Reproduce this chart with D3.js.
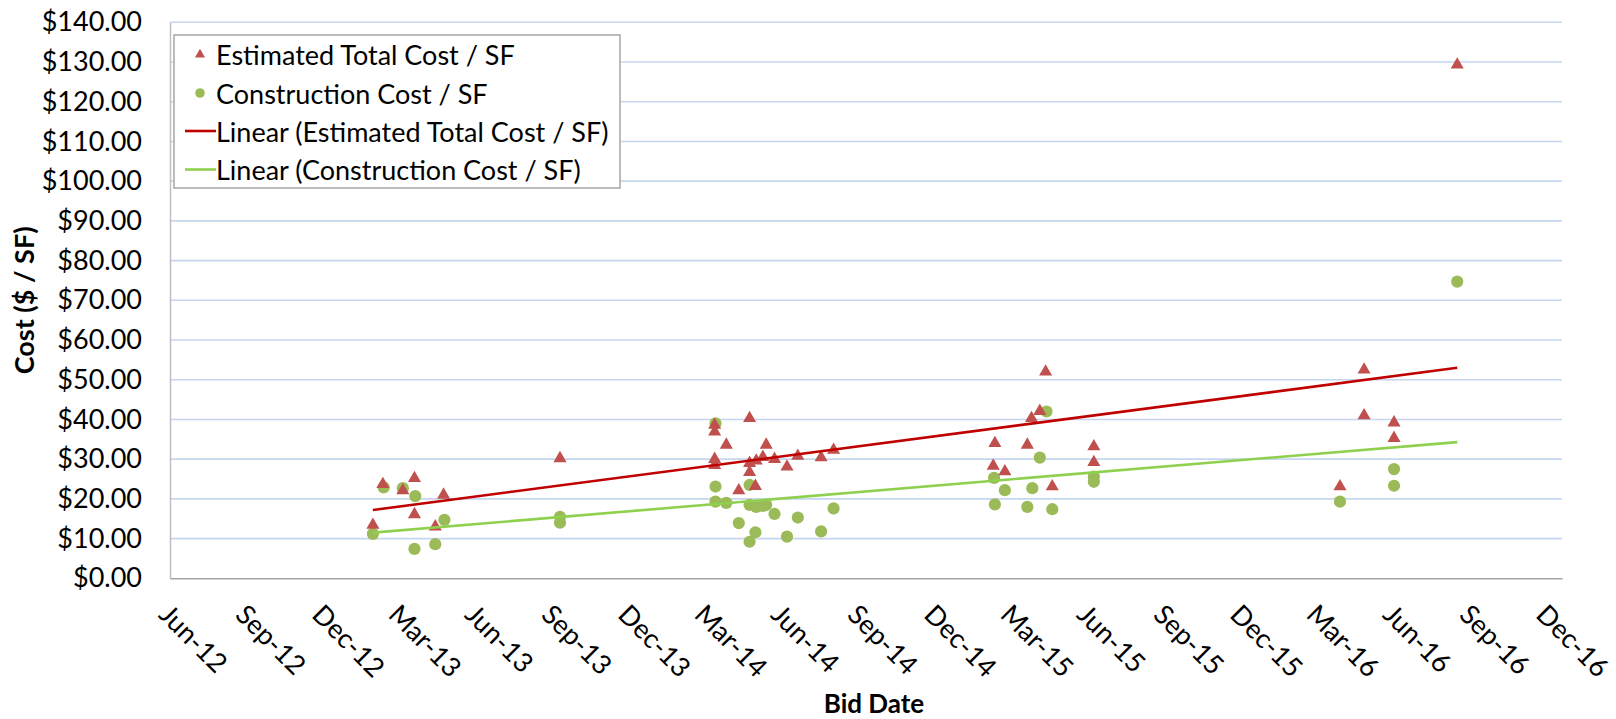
<!DOCTYPE html>
<html>
<head>
<meta charset="utf-8">
<script src="https://cdn.jsdelivr.net/npm/d3@7"></script>
<style>
  html, body { margin: 0; padding: 0; background: #fff; }
  svg { display: block; font-family: Lato, "Open Sans", sans-serif; }
</style>
</head>
<body>
<svg id="chart" width="1616" height="719"></svg>
<script>
// ---------- data ----------
const totalDates = [
  "2013-01-31","2013-02-12","2013-03-08","2013-03-22","2013-03-22","2013-04-16","2013-04-26",
  "2013-09-13",
  "2014-03-18","2014-03-18","2014-03-18","2014-03-18","2014-04-01","2014-04-16",
  "2014-04-29","2014-04-29","2014-04-29","2014-05-06","2014-05-07","2014-05-15",
  "2014-05-19","2014-05-29","2014-06-13","2014-06-26","2014-07-24","2014-08-08",
  "2015-02-16","2015-02-18","2015-03-02","2015-03-29","2015-04-03","2015-04-13",
  "2015-04-20","2015-04-28","2015-06-17","2015-06-17",
  "2016-04-08","2016-05-07","2016-05-07","2016-06-12","2016-06-12","2016-08-27"
];
const totalCost = [
  13.4, 23.7, 22.1, 25.2, 16.1, 13.0, 21.0,
  30.2,
  38.6, 36.9, 30.0, 28.5, 33.6, 22.1,
  40.3, 29.0, 26.7, 23.2, 29.6, 30.5,
  33.6, 30.0, 28.1, 30.8, 30.4, 32.3,
  28.3, 34.0, 26.9, 33.6, 40.3, 42.1,
  52.0, 23.1, 33.2, 29.2,
  23.1, 52.5, 41.0, 39.2, 35.3, 129.3
];
const constDates = [
  "2013-01-31","2013-02-13","2013-03-08","2013-03-23","2013-03-22","2013-04-16","2013-04-27",
  "2013-09-13","2013-09-13",
  "2014-03-19","2014-03-19","2014-03-19","2014-04-01","2014-04-16",
  "2014-04-29","2014-04-29","2014-04-29","2014-05-06","2014-05-07","2014-05-15",
  "2014-05-19","2014-05-29","2014-06-13","2014-06-26","2014-07-24","2014-08-08",
  "2015-02-17","2015-02-18","2015-03-02","2015-03-29","2015-04-04","2015-04-13",
  "2015-04-21","2015-04-28","2015-06-17","2015-06-17",
  "2016-04-08","2016-06-12","2016-06-12","2016-08-27"
];
const constCost = [
  11.2, 22.9, 22.7, 20.7, 7.4, 8.6, 14.7,
  15.5, 14.0,
  39.0, 23.1, 19.3, 19.0, 13.9,
  23.5, 18.5, 9.2, 11.6, 18.0, 18.2,
  18.5, 16.2, 10.5, 15.3, 11.8, 17.6,
  25.3, 18.6, 22.2, 18.0, 22.7, 30.4,
  42.0, 17.4, 25.6, 24.3,
  19.3, 27.5, 23.3, 74.7
];
// linear trend lines (end points)
const trendDates = ["2013-01-31", "2016-08-27"];
const trendTotal = [17.2, 53.0];
const trendConst = [11.5, 34.3];

const xDomain = ["2012-06-01", "2016-12-31"];
const xTickStepDays = 92;
const yTicks = [0, 10, 20, 30, 40, 50, 60, 70, 80, 90, 100, 110, 120, 130, 140];

const legendLabels = [
  "Estimated Total Cost / SF",
  "Construction Cost / SF",
  "Linear (Estimated Total Cost / SF)",
  "Linear (Construction Cost / SF)"
];

// ---------- drawing ----------
const parse = d3.utcParse("%Y-%m-%d");
const svg = d3.select("#chart");
const plot = { left: 170, right: 1562, top: 22.3, bottom: 578.3 };

const x = d3.scaleUtc().domain(xDomain.map(parse)).range([plot.left, plot.right]);
const y = d3.scaleLinear().domain([0, 140]).range([plot.bottom, plot.top]);

const RED = "#c0504d", GREEN = "#9bbb59", RED_LINE = "#c00000", GREEN_LINE = "#8fd14f";
const FS = 27;

// gridlines
svg.append("g").selectAll("line").data(yTicks.filter(d => d > 0)).join("line")
  .attr("x1", plot.left).attr("x2", plot.right)
  .attr("y1", d => y(d)).attr("y2", d => y(d))
  .attr("stroke", "#c6d6ef").attr("stroke-width", 1.6);

// y axis
const yAxis = d3.axisLeft(y).tickValues(yTicks).tickFormat(d3.format("$,.2f")).tickSize(0).tickPadding(28);
const gy = svg.append("g").attr("transform", `translate(${plot.left},0)`).call(yAxis);
gy.select(".domain").attr("stroke", "#bfbfbf").attr("stroke-width", 1.5);
gy.selectAll("text").attr("font-size", FS).attr("font-family", "Lato, sans-serif").attr("fill", "#000");

// x axis
const start = parse(xDomain[0]), end = parse(xDomain[1]);
const xTickVals = [];
for (let t = start; t <= end; t = d3.utcDay.offset(t, xTickStepDays)) xTickVals.push(t);
const xAxis = d3.axisBottom(x).tickValues(xTickVals).tickFormat(d3.utcFormat("%b-%y")).tickSize(0);
const gx = svg.append("g").attr("transform", `translate(0,${plot.bottom})`).call(xAxis);
gx.select(".domain").attr("stroke", "#a6a6a6").attr("stroke-width", 1.5);
gx.selectAll("text")
  .attr("font-size", FS).attr("font-family", "Lato, sans-serif").attr("fill", "#000")
  .attr("text-anchor", "start").attr("y", 0).attr("dy", 0)
  .attr("transform", "translate(-13,38) rotate(45)");

// markers: circles
svg.append("g").selectAll("circle").data(constDates.map((d, i) => [parse(d), constCost[i]])).join("circle")
  .attr("cx", d => x(d[0])).attr("cy", d => y(d[1])).attr("r", 6.1).attr("fill", GREEN);

// markers: triangles
const tri = d3.symbol().type(d3.symbolTriangle).size(74);
svg.append("g").selectAll("path").data(totalDates.map((d, i) => [parse(d), totalCost[i]])).join("path")
  .attr("d", tri).attr("transform", d => `translate(${x(d[0])},${y(d[1])})`).attr("fill", RED);

// trend lines
const line = d3.line().x(d => x(d[0])).y(d => y(d[1]));
svg.append("path").datum(trendDates.map((d, i) => [parse(d), trendTotal[i]]))
  .attr("d", line).attr("stroke", RED_LINE).attr("stroke-width", 2.6).attr("fill", "none");
svg.append("path").datum(trendDates.map((d, i) => [parse(d), trendConst[i]]))
  .attr("d", line).attr("stroke", GREEN_LINE).attr("stroke-width", 2.6).attr("fill", "none");

// axis titles
svg.append("text").attr("x", 874).attr("y", 703).attr("text-anchor", "middle")
  .attr("dominant-baseline", "central").attr("font-weight", "bold").attr("font-size", FS - 1).text("Bid Date");
svg.append("text").attr("transform", `translate(23,${(plot.top + plot.bottom) / 2}) rotate(-90)`)
  .attr("text-anchor", "middle").attr("dominant-baseline", "central")
  .attr("font-weight", "bold").attr("font-size", FS).text("Cost ($ / SF)");

// legend
const lg = svg.append("g");
lg.append("rect").attr("x", 174).attr("y", 35).attr("width", 446).attr("height", 153)
  .attr("fill", "#fff").attr("stroke", "#a6a6a6").attr("stroke-width", 1.5);
const rowY = [54.5, 93, 131, 169.5];
lg.append("path").attr("d", d3.symbol().type(d3.symbolTriangle).size(44))
  .attr("transform", `translate(200,${rowY[0]})`).attr("fill", RED);
lg.append("circle").attr("cx", 200).attr("cy", rowY[1]).attr("r", 4.8).attr("fill", GREEN);
lg.append("line").attr("x1", 185).attr("x2", 216).attr("y1", rowY[2]).attr("y2", rowY[2])
  .attr("stroke", RED_LINE).attr("stroke-width", 2.6);
lg.append("line").attr("x1", 185).attr("x2", 216).attr("y1", rowY[3]).attr("y2", rowY[3])
  .attr("stroke", GREEN_LINE).attr("stroke-width", 2.6);
lg.selectAll("text.lab").data(legendLabels).join("text").attr("class", "lab")
  .attr("x", 216).attr("y", (d, i) => rowY[i])
  .attr("dominant-baseline", "central").attr("font-size", FS).text(d => d);
</script>
</body>
</html>
